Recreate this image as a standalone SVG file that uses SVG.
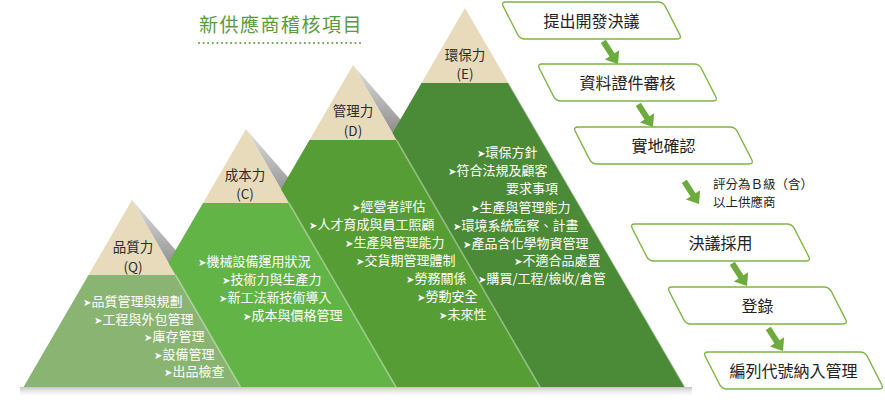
<svg xmlns="http://www.w3.org/2000/svg" xmlns:xlink="http://www.w3.org/1999/xlink" width="885" height="405" viewBox="0 0 885 405">
<style>
.lbl{font-family:"Noto Sans CJK TC","Noto Sans CJK SC",sans-serif;font-size:13.5px;fill:#2b2b2b;text-anchor:middle}
.bl{font-family:"Noto Sans CJK TC","Noto Sans CJK SC",sans-serif;font-size:13px;fill:#ffffff}
.ar{font-family:"DejaVu Sans",sans-serif;font-size:10px}
.box{fill:#ffffff;stroke:#7db544;stroke-width:1.3}
.bt{font-family:"Noto Sans CJK TC","Noto Sans CJK SC",sans-serif;font-size:16px;fill:#222222;text-anchor:middle}
.note{font-family:"Noto Sans CJK TC","Noto Sans CJK SC",sans-serif;font-size:12.5px;fill:#222222}
.beige{fill:#e8dbbb}
.edge{stroke:#ffffff;stroke-opacity:0.4;stroke-width:1.5}
.arrow{fill:#6dab3c}
</style>
<defs>
<linearGradient id="wedge" x1="0" y1="0" x2="0" y2="1">
<stop offset="0" stop-color="#e2e2e2"/>
<stop offset="1" stop-color="#666666"/>
</linearGradient>
<linearGradient id="shadow" x1="0" y1="0" x2="0" y2="1">
<stop offset="0" stop-color="#c4c4c4"/>
<stop offset="1" stop-color="#ffffff" stop-opacity="0"/>
</linearGradient>
<path id="pbox" d="M5,0 L157,0 Q162,0 164.3,4.4 L178.7,32.6 Q181,37 176,37 L24,37 Q19,37 16.7,32.6 L2.3,4.4 Q0,0 5,0 Z"/>
<path id="arr" d="M-3,-27 L3,-27 L3,-11 L8.5,-11 L0,0 L-8.5,-11 L-3,-11 Z"/>
</defs>

<g id="title">
<text x="199" y="32" style="font-family:'Noto Sans CJK TC','Noto Sans CJK SC',sans-serif;font-size:19px;fill:#5b9a3c;letter-spacing:1.5px">新供應商稽核項目</text>
<line x1="199" y1="43" x2="362" y2="43" stroke="#6ea24a" stroke-width="2.2" stroke-linecap="round" stroke-dasharray="0 4.6"/>
</g>

<g id="pyramid-shading">
<rect x="20" y="387" width="672" height="11" fill="url(#shadow)"/>
<polygon points="132,200 190,300 219,300" fill="url(#wedge)"/>
<polygon points="246,129 304,229 333,229" fill="url(#wedge)"/>
<polygon points="353,65 411,165 440,165" fill="url(#wedge)"/>
</g>

<g id="pyramid-E">
<polygon points="465,8 508.5,83 421.5,83" class="beige"/>
<polygon points="421.5,83 508.5,83 685,387 245,387" fill="#4b8a37"/>
<line x1="508.5" y1="83" x2="685" y2="387" class="edge"/>
<text class="lbl" x="465" y="60">環保力</text>
<text class="lbl" x="465" y="79">(E)</text>
<text class="bl" x="477" y="157"><tspan class="ar">➤</tspan>環保方針</text>
<text class="bl" x="448" y="175"><tspan class="ar">➤</tspan>符合法規及顧客</text>
<text class="bl" x="506" y="193">要求事項</text>
<text class="bl" x="471" y="212"><tspan class="ar">➤</tspan>生產與管理能力</text>
<text class="bl" x="453" y="230"><tspan class="ar">➤</tspan>環境系統監察、計畫</text>
<text class="bl" x="463" y="248"><tspan class="ar">➤</tspan>產品含化學物資管理</text>
<text class="bl" x="514" y="265"><tspan class="ar">➤</tspan>不適合品處置</text>
<text class="bl" x="478" y="283"><tspan class="ar">➤</tspan>購買/工程/檢收/倉管</text>
</g>

<g id="pyramid-D">
<polygon points="353,65 396.5,140 309.5,140" class="beige"/>
<polygon points="309.5,140 396.5,140 540,387 166,387" fill="#579d35"/>
<line x1="396.5" y1="140" x2="540" y2="387" class="edge"/>
<text class="lbl" x="353" y="116">管理力</text>
<text class="lbl" x="353" y="136">(D)</text>
<text class="bl" x="352" y="211"><tspan class="ar">➤</tspan>經營者評估</text>
<text class="bl" x="309" y="229"><tspan class="ar">➤</tspan>人才育成與員工照顧</text>
<text class="bl" x="345" y="247"><tspan class="ar">➤</tspan>生產與管理能力</text>
<text class="bl" x="356" y="265"><tspan class="ar">➤</tspan>交貨期管理體制</text>
<text class="bl" x="406" y="283"><tspan class="ar">➤</tspan>勞務關係</text>
<text class="bl" x="417" y="301"><tspan class="ar">➤</tspan>勞動安全</text>
<text class="bl" x="439" y="319"><tspan class="ar">➤</tspan>未來性</text>
</g>

<g id="pyramid-C">
<polygon points="246,129 289,203 203,203" class="beige"/>
<polygon points="203,203 289,203 396,387 96,387" fill="#62b446"/>
<line x1="289" y1="203" x2="396" y2="387" class="edge"/>
<text class="lbl" x="245" y="180">成本力</text>
<text class="lbl" x="245" y="199">(C)</text>
<text class="bl" x="198" y="266"><tspan class="ar">➤</tspan>機械設備運用狀況</text>
<text class="bl" x="222" y="284"><tspan class="ar">➤</tspan>技術力與生產力</text>
<text class="bl" x="219" y="302"><tspan class="ar">➤</tspan>新工法新技術導入</text>
<text class="bl" x="243" y="320"><tspan class="ar">➤</tspan>成本與價格管理</text>
</g>

<g id="pyramid-Q">
<polygon points="132,200 175.5,275 88.5,275" class="beige"/>
<polygon points="88.5,275 175.5,275 240.5,387 23.5,387" fill="#8ab472"/>
<line x1="175.5" y1="275" x2="240.5" y2="387" class="edge"/>
<text class="lbl" x="133" y="252">品質力</text>
<text class="lbl" x="133" y="272">(Q)</text>
<text class="bl" x="83" y="306"><tspan class="ar">➤</tspan>品質管理與規劃</text>
<text class="bl" x="94" y="323.5"><tspan class="ar">➤</tspan>工程與外包管理</text>
<text class="bl" x="144" y="341"><tspan class="ar">➤</tspan>庫存管理</text>
<text class="bl" x="154" y="358.5"><tspan class="ar">➤</tspan>設備管理</text>
<text class="bl" x="164" y="376"><tspan class="ar">➤</tspan>出品檢查</text>
</g>

<g id="step-1" transform="translate(501,2)">
<use href="#pbox" class="box"/>
<text class="bt" x="90.5" y="24.5">提出開發決議</text>
</g>
<g id="step-2" transform="translate(537,64)">
<use href="#pbox" class="box"/>
<text class="bt" x="90.5" y="24.5">資料證件審核</text>
</g>
<g id="step-3" transform="translate(573,127)">
<use href="#pbox" class="box"/>
<text class="bt" x="90.5" y="24.5">實地確認</text>
</g>
<g id="step-4" transform="translate(630,224)">
<use href="#pbox" class="box"/>
<text class="bt" x="90.5" y="24.5">決議採用</text>
</g>
<g id="step-5" transform="translate(667,287)">
<use href="#pbox" class="box"/>
<text class="bt" x="90.5" y="24.5">登錄</text>
</g>
<g id="step-6" transform="translate(703,352)">
<use href="#pbox" class="box"/>
<text class="bt" x="90.5" y="24.5">編列代號納入管理</text>
</g>

<g id="connectors">
<use href="#arr" class="arrow" transform="translate(618,64) rotate(-33)"/>
<use href="#arr" class="arrow" transform="translate(653,127) rotate(-33)"/>
<use href="#arr" class="arrow" transform="translate(699,204) rotate(-33)"/>
<use href="#arr" class="arrow" transform="translate(747,286) rotate(-33)"/>
<use href="#arr" class="arrow" transform="translate(783,351) rotate(-33)"/>
<text class="note" x="713" y="189">評分為Ｂ級（含）</text>
<text class="note" x="713" y="207">以上供應商</text>
</g>
</svg>
